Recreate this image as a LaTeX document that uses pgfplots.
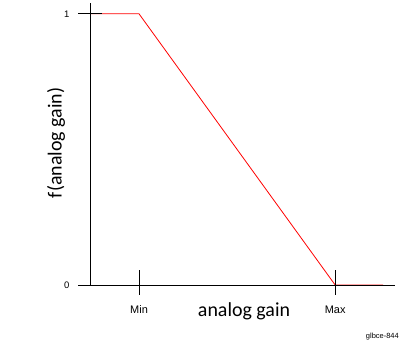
\documentclass[border=0pt]{standalone}
\usepackage{fontspec}
\setmainfont{Carlito}
\newfontfamily\arial{Liberation Sans}
\usepackage{pgfplots}
\pgfplotsset{compat=1.18}
\begin{document}
\begin{tikzpicture}
\useasboundingbox (0,0) rectangle (404bp,340bp);
\begin{axis}[
  at={(90bp,55bp)}, anchor=origin,
  scale only axis, width=305bp, height=282bp,
  xmin=0, xmax=6.22, ymin=0, ymax=1.04,
  axis x line=bottom, axis y line=left,
  axis on top,
  axis line style={-, line width=0.8bp, black},
  xtick={1,5}, xticklabels={Min,Max},
  ytick={0,1},
  tick align=center,
  major tick length=24bp,
  tick style={black, line width=0.8bp},
  xtick style={yshift=2.5bp},
  /pgf/number format/assume math mode=true,
  xticklabel style={font=\arial\fontsize{11}{12}\selectfont, anchor=base, yshift=-16bp},
  yticklabel style={font=\arial\fontsize{9.5}{10}\selectfont, xshift=-5bp},
  xlabel={analog gain},
  ylabel={f(analog gain)},
  xlabel style={at={(axis description cs:0.505,0)}, anchor=base, yshift=-31bp, font=\fontsize{20}{22}\selectfont},
  ylabel style={at={(axis description cs:0,0.504)}, anchor=center, yshift=34bp, font=\fontsize{20}{22}\selectfont},
  clip=false,
]
\addplot[red, line width=0.8bp] coordinates {(0,1) (1,1) (5,0) (5.98,0)};
\end{axis}
\node[anchor=base east, inner sep=0pt, font=\arial\fontsize{7.5}{9}\selectfont] at (399bp,2bp) {glbce-844};
\end{tikzpicture}
\end{document}
